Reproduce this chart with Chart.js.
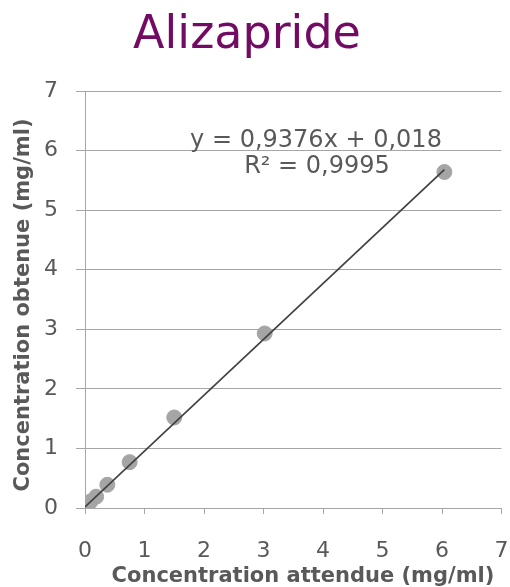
<!DOCTYPE html>
<html><head><meta charset="utf-8">
<script src="https://cdn.jsdelivr.net/npm/chart.js@4"></script>
<style>html,body{margin:0;padding:0;background:#fff}#wrap{width:510px;height:587px}</style>
</head><body><div id="wrap"><canvas id="c" width="510" height="587"></canvas></div>
<script>
const titleText = "Alizapride";
const xTitle = "Concentration attendue (mg/ml)";
const yTitle = "Concentration obtenue (mg/ml)";
const expected = [0, 0.047, 0.094, 0.1875, 0.375, 0.75, 1.5, 3.02, 6.04];
const obtained = [0.02, 0.06, 0.11, 0.19, 0.39, 0.77, 1.52, 2.93, 5.64];
const slope = 0.9376, intercept = 0.018;
const eqLines = ["y = 0,9376x + 0,018", "R² = 0,9995"];
const trendX = [0, 6.04];
const xTicks = [0,1,2,3,4,5,6,7];
const yTicks = [0,1,2,3,4,5,6,7];

const pts = expected.map((x,i)=>({x, y: obtained[i]}));
const trend = trendX.map(x=>({x, y: slope*x+intercept}));
const grey = "#595959";

const textPlugin = {
  id: 'texts',
  afterDraw(chart){
    const ctx = chart.ctx;
    ctx.save();
    ctx.fillStyle = "#730b64";
    ctx.font = "46px 'DejaVu Sans'";
    ctx.textAlign = "center";
    ctx.textBaseline = "alphabetic";
    ctx.fillText(titleText, 247, 48);
    ctx.fillStyle = grey;
    ctx.font = "24px 'DejaVu Sans'";
    ctx.fillText(eqLines[0], 316, 147);
    ctx.fillText(eqLines[1], 317, 173);
    ctx.font = "bold 21px 'DejaVu Sans'";
    ctx.fillText(xTitle, 303, 582);
    ctx.translate(29, 305);
    ctx.rotate(-Math.PI/2);
    ctx.fillText(yTitle, 0, 0);
    ctx.restore();
  }
};

new Chart(document.getElementById('c'), {
  type: 'scatter',
  data: { datasets: [
    { type:'line', data: trend, borderColor:'#404040', borderWidth:1.7, pointRadius:0, fill:false, order:0 },
    { data: pts, backgroundColor:'#a5a5a5', borderColor:'#a5a5a5', pointRadius:7.5, pointHoverRadius:7.5, order:1 }
  ]},
  options: {
    responsive:false, animation:false, devicePixelRatio:1,
    layout:{ padding:{ top:91, right:6, left:0, bottom:0 } },
    plugins:{ legend:{display:false}, tooltip:{enabled:false}, title:{display:false} },
    scales:{
      x:{ type:'linear', min:0, max:7,
        afterBuildTicks(s){ s.ticks = xTicks.map(v=>({value:v})); },
        afterFit(s){ s.height = 79; s.paddingRight = 0; s.paddingLeft = 0;
          s.getPadding = () => ({left:0, top:0, right:0, bottom:0}); },
        grid:{ drawOnChartArea:false, drawTicks:true, tickLength:6, color:'#a6a6a6', lineWidth:1 },
        border:{ color:'#a6a6a6', width:1 },
        ticks:{ color:grey, font:{family:'DejaVu Sans', size:22}, padding:24 },
        title:{ display:false }
      },
      y:{ type:'linear', min:0, max:7,
        afterBuildTicks(s){ s.ticks = yTicks.map(v=>({value:v})); },
        afterFit(s){ s.width = 85; },
        grid:{ color:'#a6a6a6', lineWidth:1, tickLength:9 },
        border:{ color:'#a6a6a6', width:1 },
        ticks:{ color:grey, font:{family:'DejaVu Sans', size:22}, padding:18 },
        title:{ display:false }
      }
    }
  },
  plugins:[textPlugin]
});
</script></body></html>
